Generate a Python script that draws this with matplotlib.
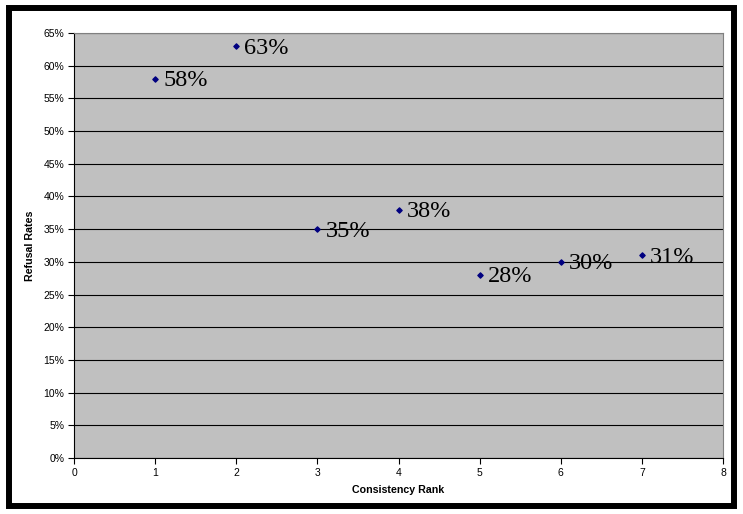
import matplotlib
matplotlib.use("Agg")
import matplotlib.pyplot as plt
from matplotlib.patches import Rectangle
from matplotlib.ticker import MultipleLocator, FuncFormatter

# 一貫性ランクと拒否率
ranks = [1, 2, 3, 4, 5, 6, 7]
refusal = [0.58, 0.63, 0.35, 0.38, 0.28, 0.30, 0.31]
labels = ["58%", "63%", "35%", "38%", "28%", "30%", "31%"]

plt.rcParams["font.family"] = ["Liberation Sans", "DejaVu Sans"]

fig = plt.figure(figsize=(7.43, 5.14), dpi=100)
ax = fig.add_axes([74 / 743, 56 / 514, 649 / 743, 425 / 514])
ax.set_facecolor("#c0c0c0")

ax.scatter(ranks, refusal, marker="D", s=7, color="#000080", zorder=3)
for x, y, t in zip(ranks, refusal, labels):
    ax.text(x + 0.1, y - 0.003, t, fontsize=17.5, family="Liberation Serif",
            va="center", ha="left", zorder=4)

ax.set_xlim(0, 8)
ax.set_ylim(0, 0.65)
ax.xaxis.set_major_locator(MultipleLocator(1))
ax.yaxis.set_major_locator(MultipleLocator(0.05))
ax.yaxis.set_major_formatter(FuncFormatter(lambda v, p: f"{round(v * 100)}%"))
ax.grid(axis="y", color="black", linewidth=0.8)
ax.set_axisbelow(True)

ax.tick_params(labelsize=7.5, direction="out", length=4, width=0.8, pad=3)
for side in ["top", "right"]:
    ax.spines[side].set_color("#808080")
for side in ["left", "bottom"]:
    ax.spines[side].set_color("black")

ax.set_xlabel("Consistency Rank", fontsize=7.7, fontweight="bold", labelpad=5)
ax.set_ylabel("Refusal Rates", fontsize=7.7, fontweight="bold", labelpad=6)

# 外枠
fig.patches.append(Rectangle((9 / 743, 8 / 514), 725 / 743, 498 / 514,
                             transform=fig.transFigure, fill=False,
                             edgecolor="black", linewidth=4.3))

fig.savefig("out.png", dpi=100)
